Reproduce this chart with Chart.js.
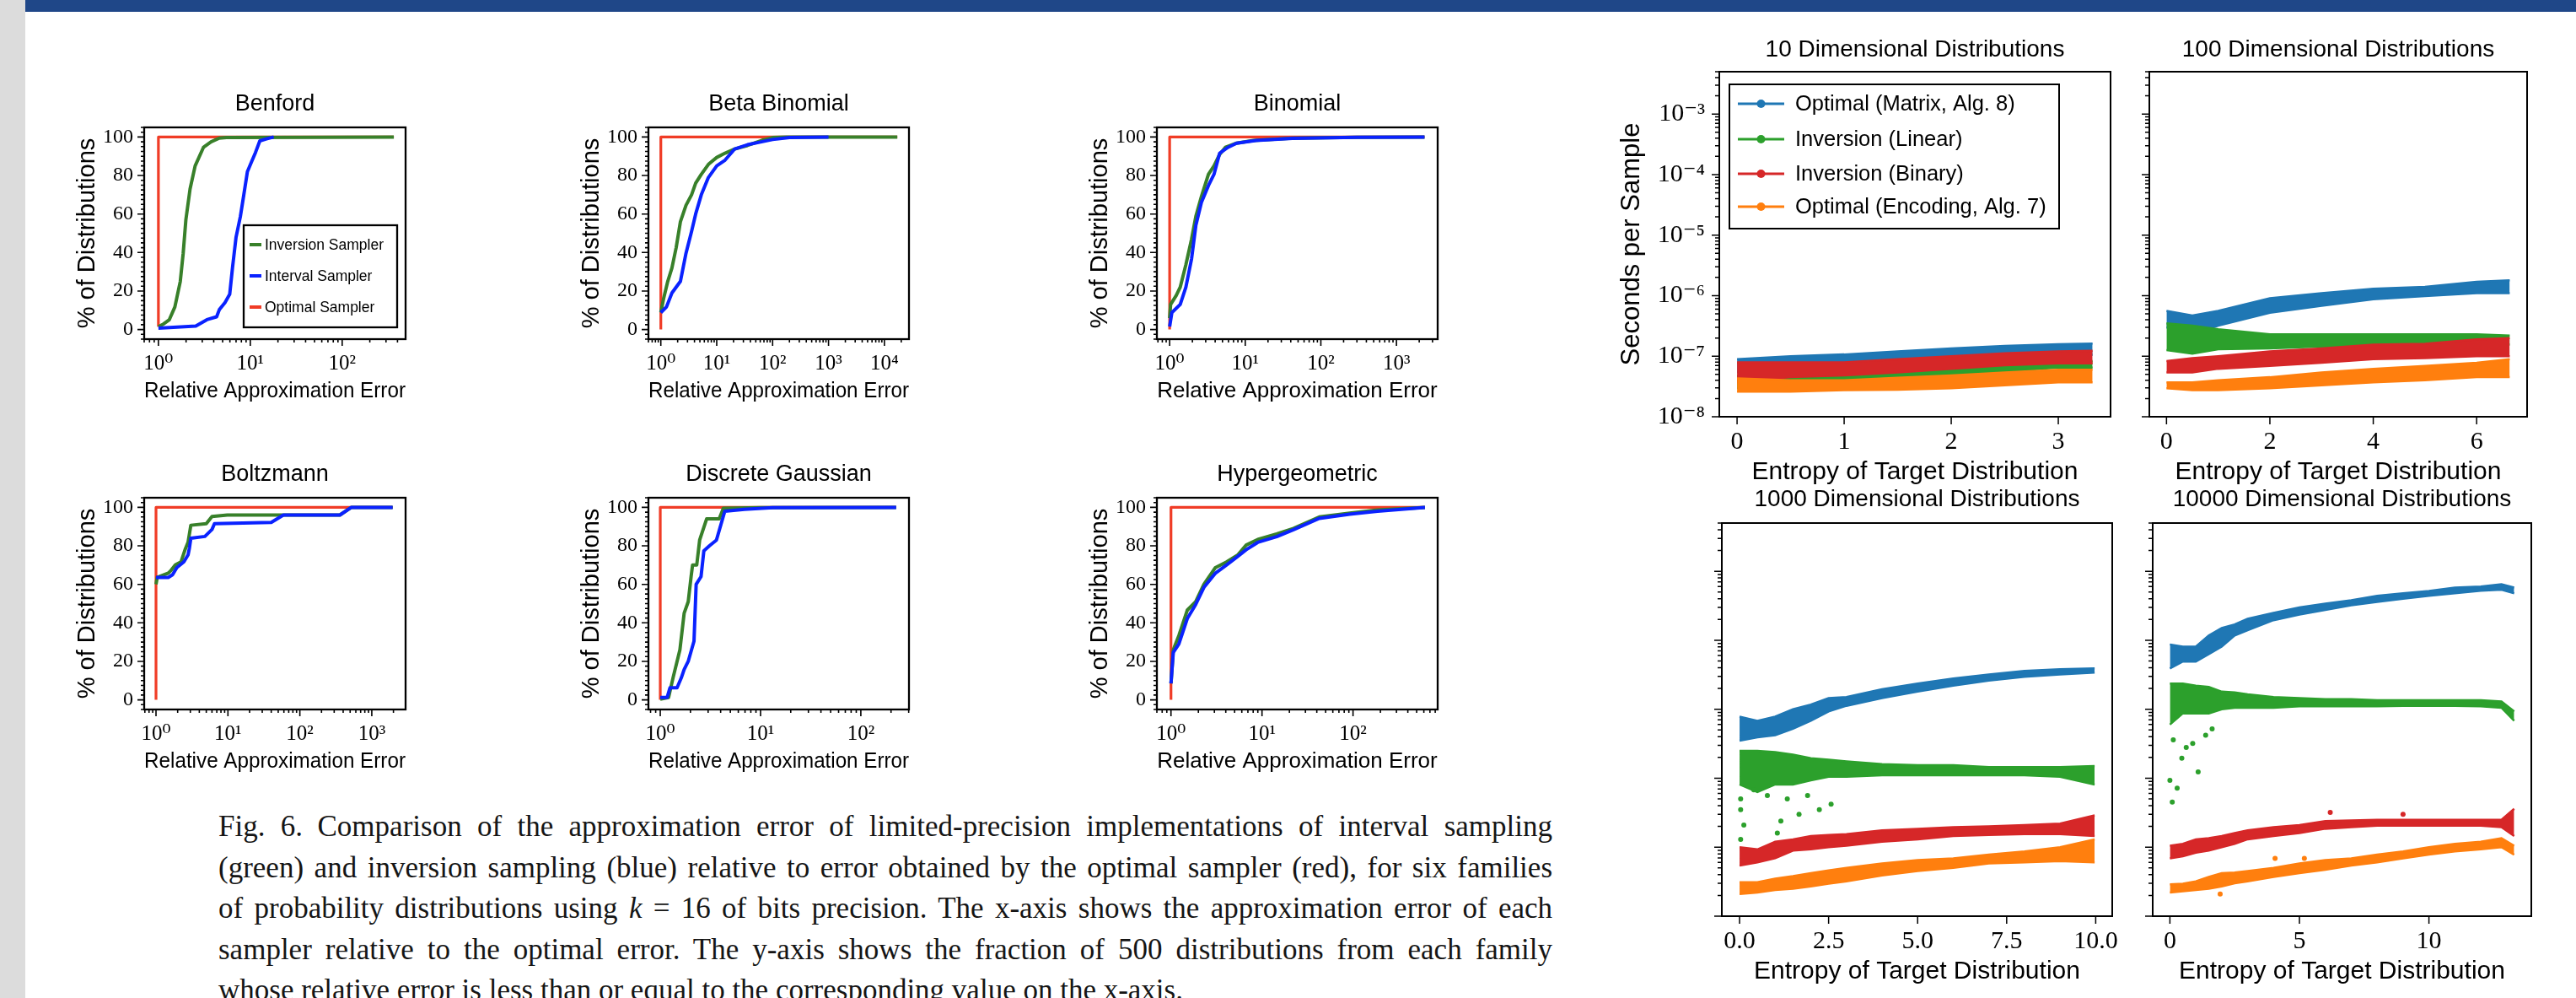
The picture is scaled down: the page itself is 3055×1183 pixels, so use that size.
<!DOCTYPE html>
<html>
<head>
<meta charset="utf-8">
<script src="https://cdn.jsdelivr.net/npm/chart.js@4.4.1/dist/chart.umd.min.js"></script>
<style>
  body { margin: 0; width: 3055px; height: 1183px; overflow: hidden; background: #fff; position: relative; }
  #strip { position: absolute; left: 0; top: 0; width: 30px; height: 1183px; background: #dcdcdc; }
  #bar { position: absolute; left: 30px; top: 0; width: 3025px; height: 14px; background: #1f4788; }
  canvas { position: absolute; }
  #caption { position: absolute; left: 259px; top: 956px; width: 1582px; font-family: "Liberation Serif", serif; font-size: 35px; line-height: 48.5px; color: #151515; }
  #caption div { text-align: justify; text-align-last: justify; }
  #caption div.last { text-align-last: left; }
</style>
</head>
<body>
<div id="strip"></div>
<div id="bar"></div>
<div id="caption">
  <div>Fig. 6.&ensp;Comparison of the approximation error of limited-precision implementations of interval sampling</div>
  <div>(green) and inversion sampling (blue) relative to error obtained by the optimal sampler (red), for six families</div>
  <div>of probability distributions using <i>k</i> = 16 of bits precision. The x-axis shows the approximation error of each</div>
  <div>sampler relative to the optimal error. The y-axis shows the fraction of 500 distributions from each family</div>
  <div class="last">whose relative error is less than or equal to the corresponding value on the x-axis.</div>
</div>
<script>
// ---- left figure: CDF of relative approximation error, [x, % of distributions]
const families = ['Benford', 'Beta Binomial', 'Binomial', 'Boltzmann', 'Discrete Gaussian', 'Hypergeometric'];
const samplerNames = ['Inversion Sampler', 'Interval Sampler', 'Optimal Sampler'];

const benfordInversion = [[1,1.5],[1.14,2.9],[1.31,5],[1.51,11.7],[1.73,25],[1.86,39.6],[1.99,57],[2.21,73],[2.51,85],[3.09,94.6],[3.74,97.5],[4.6,99.4],[5.5,99.7],[60,99.8],[365,100]];
const benfordInterval = [[1,0.7],[2.55,1.8],[3.37,5.1],[4.3,6.6],[4.6,10.3],[5.3,14],[5.97,18.3],[6.4,32],[7.0,48],[7.8,58.7],[8.5,70],[9.3,82],[10.3,87],[11.4,92],[12.7,98],[15,99],[18,100]];
const benfordOptimal = [[1,1.5],[1,100],[365,100]];

const betaBinomialInversion = [[1,8.8],[1.12,16],[1.33,25],[1.58,32],[1.88,42.5],[2.24,56],[2.82,64.5],[3.55,70],[4.2,76],[5.3,80.6],[7.1,85.8],[10,89.4],[14.1,91.6],[21,93.8],[35.5,95.6],[63,98.2],[100,99.7],[178,100],[17000,100]];
const betaBinomialInterval = [[1,8.8],[1.26,11.7],[1.58,19],[2.24,25],[2.82,39.6],[3.55,51],[4.2,60],[5.3,70],[7.1,79],[10,85],[14.1,88],[21,93.8],[35.5,96],[63,97.5],[100,98.7],[200,99.7],[1000,100]];
const betaBinomialOptimal = [[1,0],[1,100],[17000,100]];

const binomialInversion = [[1,5.9],[1.03,13],[1.22,17.6],[1.38,22],[1.64,33.7],[1.95,47],[2.22,58.7],[2.63,69],[3.26,80.6],[3.86,85],[4.59,91],[5.45,94.6],[7.67,96.8],[12.8,98.2],[42,99.4],[300,99.9],[2350,100]];
const binomialInterval = [[1,1.5],[1.07,8.8],[1.38,13],[1.64,22],[1.95,36.7],[2.22,54],[2.63,66],[3.26,74.8],[3.86,80.6],[4.59,91.6],[5.9,94.6],[7.67,96.8],[13.9,98.2],[42,99.3],[300,99.8],[2350,100]];
const binomialOptimal = [[1,0],[1,100],[2350,100]];

const boltzmannInversion = [[1,60],[1.04,63.6],[1.48,65.8],[1.62,67.3],[1.86,70.2],[2.23,71.7],[2.55,78.3],[2.79,81.9],[3.05,90.7],[5.0,91.5],[6.0,95.2],[9.8,96],[59,96],[360,96],[520,100],[1950,100]];
const boltzmannInterval = [[1,63.6],[1.48,63.6],[1.7,65],[1.95,68.7],[2.44,71.7],[2.79,75.3],[2.92,79],[3.05,84],[4.78,84.9],[6.0,88.5],[6.5,91.5],[40,92.2],[59,96],[360,96],[520,100],[1950,100]];
const boltzmannOptimal = [[1,0],[1,100],[1950,100]];

const discreteGaussianInversion = [[1,0.4],[1.21,1.2],[1.34,11.4],[1.57,26],[1.73,45],[1.9,51],[2.03,64],[2.10,70],[2.31,70],[2.47,83],[2.9,94],[3.87,94],[4.26,99.5],[10,99.9],[225,100]];
const discreteGaussianInterval = [[1,1.2],[1.17,1.2],[1.25,6.3],[1.47,6.3],[1.62,11.4],[1.73,15.8],[1.9,20],[2.17,30.5],[2.28,60],[2.55,64],[2.72,77.4],[3.09,80],[3.63,83],[4.4,98],[6.9,99],[13.2,99.9],[225,100]];
const discreteGaussianOptimal = [[1,0],[1,100],[225,100]];

const hypergeometricInversion = [[1,8.5],[1.06,26],[1.22,33.4],[1.51,46.6],[1.87,51],[2.3,60],[3.06,68.6],[4.06,71.6],[5.4,75.2],[6.7,80.4],[8.97,83.3],[14.5,86.2],[22.2,89.1],[42.6,95],[92,97],[186,98.6],[617,100]];
const hypergeometricInterval = [[1,8.5],[1.06,24.6],[1.22,29],[1.51,42.2],[1.87,49.6],[2.3,58.4],[3.06,65.7],[4.06,70],[5.4,74.5],[6.7,78],[8.97,81.8],[14.5,84.8],[22.2,88.4],[42.6,94.3],[92,96.5],[186,98],[617,100]];
const hypergeometricOptimal = [[1,0],[1,100],[617,100]];

const errTickValues = [1, 10, 100, 1000, 10000];
const errTickLabels = ['10⁰', '10¹', '10²', '10³', '10⁴'];
const pctTickValues = [0, 20, 40, 60, 80, 100];

const dimTitles = ['10 Dimensional Distributions', '100 Dimensional Distributions', '1000 Dimensional Distributions', '10000 Dimensional Distributions'];
const methodNames = ['Optimal (Matrix, Alg. 8)', 'Inversion (Linear)', 'Inversion (Binary)', 'Optimal (Encoding, Alg. 7)'];

const ent10 = [0, 0.5, 1, 1.5, 2, 2.5, 3, 3.32];
const t10MatrixHi = [8.9e-8, 1.0e-7, 1.07e-7, 1.2e-7, 1.35e-7, 1.48e-7, 1.58e-7, 1.62e-7];
const t10MatrixLo = [5.4e-8, 6.0e-8, 6.9e-8, 7.9e-8, 9.3e-8, 1.0e-7, 1.05e-7, 1.05e-7];
const t10LinearHi = [4.8e-8, 5.0e-8, 5.4e-8, 6.0e-8, 6.9e-8, 7.6e-8, 8.3e-8, 8.3e-8];
const t10LinearLo = [2.95e-8, 3.2e-8, 3.5e-8, 4.2e-8, 4.8e-8, 5.6e-8, 6.5e-8, 6.5e-8];
const t10BinaryHi = [7.9e-8, 7.9e-8, 7.9e-8, 8.9e-8, 1.0e-7, 1.12e-7, 1.2e-7, 1.23e-7];
const t10BinaryLo = [3.7e-8, 4.5e-8, 4.8e-8, 5.4e-8, 6.2e-8, 7.1e-8, 7.6e-8, 7.6e-8];
const t10EncodingHi = [4.3e-8, 4.0e-8, 4.0e-8, 4.4e-8, 4.8e-8, 5.4e-8, 6.0e-8, 6.0e-8];
const t10EncodingLo = [2.6e-8, 2.6e-8, 2.75e-8, 2.8e-8, 2.95e-8, 3.3e-8, 3.7e-8, 3.7e-8];

const ent100 = [0, 0.5, 1, 2, 3, 4, 5, 6, 6.64];
const t100MatrixHi = [5.6e-7, 4.7e-7, 5.6e-7, 9.1e-7, 1.1e-6, 1.3e-6, 1.4e-6, 1.7e-6, 1.8e-6];
const t100MatrixLo = [3.0e-7, 2.3e-7, 3.2e-7, 5.2e-7, 6.8e-7, 8.7e-7, 9.8e-7, 1.1e-6, 1.1e-6];
const t100LinearHi = [3.5e-7, 3.2e-7, 2.8e-7, 2.3e-7, 2.3e-7, 2.3e-7, 2.3e-7, 2.3e-7, 2.2e-7];
const t100LinearLo = [1.26e-7, 1.1e-7, 1.3e-7, 1.35e-7, 1.45e-7, 1.45e-7, 1.55e-7, 1.55e-7, 1.55e-7];
const t100BinaryHi = [8.3e-8, 9.3e-8, 1.0e-7, 1.2e-7, 1.35e-7, 1.55e-7, 1.6e-7, 1.9e-7, 2.0e-7];
const t100BinaryLo = [5.4e-8, 5.4e-8, 6.2e-8, 6.9e-8, 7.8e-8, 8.9e-8, 9.3e-8, 1.0e-7, 1.0e-7];
const t100EncodingHi = [3.7e-8, 3.7e-8, 4.0e-8, 4.5e-8, 5.4e-8, 6.2e-8, 6.9e-8, 7.8e-8, 8.9e-8];
const t100EncodingLo = [2.95e-8, 2.75e-8, 2.75e-8, 2.95e-8, 3.3e-8, 3.7e-8, 4.0e-8, 4.5e-8, 4.5e-8];

const ent1000 = [0, 0.5, 1, 1.5, 2, 2.5, 3, 4, 5, 6, 7, 8, 9, 9.97];
const t1000MatrixHi = [7.8e-6, 6.8e-6, 7.8e-6, 1.0e-5, 1.17e-5, 1.45e-5, 1.5e-5, 1.95e-5, 2.35e-5, 2.8e-5, 3.2e-5, 3.6e-5, 3.8e-5, 3.9e-5];
const t1000MatrixLo = [3.5e-6, 3.9e-6, 4.2e-6, 5.2e-6, 6.8e-6, 9.3e-6, 1.12e-5, 1.45e-5, 1.8e-5, 2.2e-5, 2.6e-5, 2.95e-5, 3.2e-5, 3.4e-5];
const t1000LinearHi = [2.5e-6, 2.5e-6, 2.4e-6, 2.2e-6, 1.95e-6, 1.85e-6, 1.75e-6, 1.6e-6, 1.55e-6, 1.55e-6, 1.45e-6, 1.45e-6, 1.45e-6, 1.5e-6];
const t1000LinearLo = [8.1e-7, 6.3e-7, 8.1e-7, 8.1e-7, 9.3e-7, 1.05e-6, 1.05e-6, 1.1e-6, 1.1e-6, 1.1e-6, 1.1e-6, 1.1e-6, 1.05e-6, 8.1e-7];
const t1000BinaryHi = [1.0e-7, 9.3e-8, 1.2e-7, 1.3e-7, 1.45e-7, 1.5e-7, 1.55e-7, 1.75e-7, 1.85e-7, 1.95e-7, 2.0e-7, 2.1e-7, 2.2e-7, 2.9e-7];
const t1000BinaryLo = [5.4e-8, 6.0e-8, 6.9e-8, 8.9e-8, 9.3e-8, 1.0e-7, 1.05e-7, 1.2e-7, 1.3e-7, 1.45e-7, 1.5e-7, 1.55e-7, 1.55e-7, 1.45e-7];
const t1000EncodingHi = [3.1e-8, 3.1e-8, 3.5e-8, 3.8e-8, 4.2e-8, 4.6e-8, 5.0e-8, 5.8e-8, 6.5e-8, 6.9e-8, 7.8e-8, 8.7e-8, 1.0e-7, 1.3e-7];
const t1000EncodingLo = [2.1e-8, 2.2e-8, 2.4e-8, 2.5e-8, 2.7e-8, 2.95e-8, 3.2e-8, 3.9e-8, 4.5e-8, 5.0e-8, 5.8e-8, 6.0e-8, 6.3e-8, 6.0e-8];
const t1000LinearOutX = [0.03, 0.03, 0.12, 0.03, 1.16, 1.06, 1.67, 2.24, 2.57, 0.78, 1.34, 1.91, 0.4];
const t1000LinearOutY = [5.0e-7, 3.5e-7, 2.1e-7, 1.3e-7, 2.4e-7, 1.6e-7, 3.0e-7, 3.5e-7, 4.2e-7, 5.6e-7, 5.0e-7, 5.6e-7, 6.8e-7];

const ent10000 = [0, 0.5, 1, 1.5, 2, 2.5, 3, 4, 5, 6, 7, 8, 9, 10, 11, 12, 12.8, 13.29];
const t10000MatrixHi = [8.7e-5, 8.1e-5, 8.1e-5, 1.17e-4, 1.5e-4, 1.7e-4, 2.05e-4, 2.5e-4, 3.0e-4, 3.4e-4, 3.8e-4, 4.4e-4, 4.8e-4, 5.2e-4, 5.8e-4, 6.0e-4, 6.5e-4, 5.8e-4];
const t10000MatrixLo = [3.9e-5, 4.9e-5, 4.9e-5, 6.3e-5, 8.1e-5, 1.17e-4, 1.4e-4, 1.95e-4, 2.35e-4, 2.75e-4, 3.2e-4, 3.6e-4, 4.0e-4, 4.4e-4, 4.8e-4, 5.2e-4, 5.4e-4, 4.8e-4];
const t10000LinearHi = [2.35e-5, 2.35e-5, 2.2e-5, 2.1e-5, 1.8e-5, 1.75e-5, 1.65e-5, 1.5e-5, 1.45e-5, 1.4e-5, 1.4e-5, 1.35e-5, 1.35e-5, 1.35e-5, 1.35e-5, 1.35e-5, 1.3e-5, 9.3e-6];
const t10000LinearLo = [6.0e-6, 8.7e-6, 8.7e-6, 8.7e-6, 1.0e-5, 1.05e-5, 1.05e-5, 1.05e-5, 1.1e-5, 1.1e-5, 1.1e-5, 1.1e-5, 1.12e-5, 1.12e-5, 1.12e-5, 1.1e-5, 1.05e-5, 6.8e-6];
const t10000BinaryHi = [1.05e-7, 1.12e-7, 1.3e-7, 1.35e-7, 1.45e-7, 1.6e-7, 1.75e-7, 1.95e-7, 2.1e-7, 2.4e-7, 2.45e-7, 2.5e-7, 2.5e-7, 2.5e-7, 2.5e-7, 2.5e-7, 2.5e-7, 3.6e-7];
const t10000BinaryLo = [6.9e-8, 7.4e-8, 8.3e-8, 8.9e-8, 1.0e-7, 1.12e-7, 1.3e-7, 1.45e-7, 1.6e-7, 1.85e-7, 1.95e-7, 2.05e-7, 2.05e-7, 2.05e-7, 2.05e-7, 2.05e-7, 1.95e-7, 1.45e-7];
const t10000EncodingHi = [2.9e-8, 2.95e-8, 3.2e-8, 3.7e-8, 4.2e-8, 4.3e-8, 4.5e-8, 5.0e-8, 5.8e-8, 6.5e-8, 6.9e-8, 7.8e-8, 8.7e-8, 1.0e-7, 1.12e-7, 1.2e-7, 1.35e-7, 1.05e-7];
const t10000EncodingLo = [2.2e-8, 2.3e-8, 2.4e-8, 2.5e-8, 2.7e-8, 3.0e-8, 3.2e-8, 3.7e-8, 4.2e-8, 4.7e-8, 5.4e-8, 6.0e-8, 6.9e-8, 7.8e-8, 8.7e-8, 9.3e-8, 1.0e-7, 7.8e-8];
const t10000LinearOutX = [0, 0.28, 0.09, 0.46, 1.09, 0.63, 0.88, 1.38, 1.63, 0.13];
const t10000LinearOutY = [9.3e-7, 7.2e-7, 4.5e-7, 1.95e-6, 1.23e-6, 2.8e-6, 3.2e-6, 4.2e-6, 5.2e-6, 3.6e-6];
const t10000BinaryOutX = [6.19, 9.0];
const t10000BinaryOutY = [3.2e-7, 3.0e-7];
const t10000EncodingOutX = [4.06, 5.19, 1.94];
const t10000EncodingOutY = [6.9e-8, 6.9e-8, 2.1e-8];

const timeTickValues = [1e-8, 1e-7, 1e-6, 1e-5, 1e-4, 1e-3];
const timeTickLabels = ['10⁻⁸', '10⁻⁷', '10⁻⁶', '10⁻⁵', '10⁻⁴', '10⁻³'];
const entTicks10 = [0, 1, 2, 3], entLabels10 = ['0', '1', '2', '3'];
const entTicks100 = [0, 2, 4, 6], entLabels100 = ['0', '2', '4', '6'];
const entTicks1000 = [0, 2.5, 5, 7.5, 10], entLabels1000 = ['0.0', '2.5', '5.0', '7.5', '10.0'];
const entTicks10000 = [0, 5, 10], entLabels10000 = ['0', '5', '10'];

// ---- styling
const sans = '"Liberation Sans", Arial, sans-serif';
const serif = '"Liberation Serif", "DejaVu Serif", serif';
const cdfGreen = '#38802a', cdfBlue = '#0a22ff', cdfRed = '#f03c26';
const tabBlue = '#1f77b4', tabOrange = '#ff7f0e', tabGreen = '#2ca02c', tabRed = '#d62728';
Chart.defaults.color = '#000';
Chart.defaults.font.family = sans;

const toXY = pairs => pairs.map(([x, y]) => ({x, y}));
const zip = (xs, ys) => xs.map((x, i) => ({x, y: ys[i]}));

function place(x, y, w, h) {
  const c = document.createElement('canvas');
  c.width = w; c.height = h;
  c.style.left = x + 'px'; c.style.top = y + 'px';
  c.style.width = w + 'px'; c.style.height = h + 'px';
  document.body.appendChild(c);
  return c;
}

function drawLegend(ctx, a, L) {
  const x0 = a.left + L.x, y0 = a.top + L.y;
  ctx.fillStyle = '#fff';
  ctx.fillRect(x0, y0, L.w, L.h);
  ctx.strokeStyle = '#000'; ctx.lineWidth = L.border;
  ctx.strokeRect(x0, y0, L.w, L.h);
  ctx.font = L.font; ctx.textBaseline = 'middle'; ctx.textAlign = 'left';
  L.items.forEach((it, i) => {
    const y = y0 + L.rows[i];
    ctx.strokeStyle = it.color; ctx.lineWidth = L.lineWidth;
    ctx.beginPath(); ctx.moveTo(x0 + L.line[0], y); ctx.lineTo(x0 + L.line[1], y); ctx.stroke();
    if (L.marker) {
      ctx.fillStyle = it.color;
      ctx.beginPath(); ctx.arc(x0 + (L.line[0] + L.line[1]) / 2, y, L.marker, 0, 2 * Math.PI); ctx.fill();
    }
    ctx.fillStyle = '#000';
    ctx.fillText(it.label, x0 + L.textX, y + 1);
  });
}

// box around the plot area, outward tick marks (long = major), optional legend
const framePlugin = {
  id: 'frame',
  afterDraw(chart, args, o) {
    const {ctx, chartArea: a, scales} = chart;
    ctx.save();
    ctx.strokeStyle = '#000';
    ctx.lineWidth = o.tickWidth;
    ctx.beginPath();
    scales.x.ticks.forEach(t => {
      const p = scales.x.getPixelForValue(t.value);
      if (p < a.left - 0.5 || p > a.right + 0.5) return;
      ctx.moveTo(p, a.bottom); ctx.lineTo(p, a.bottom + (t.big ? o.major : o.minor));
    });
    scales.y.ticks.forEach(t => {
      const p = scales.y.getPixelForValue(t.value);
      if (p < a.top - 0.5 || p > a.bottom + 0.5) return;
      ctx.moveTo(a.left, p); ctx.lineTo(a.left - (t.big ? o.major : o.minor), p);
    });
    ctx.stroke();
    ctx.lineWidth = o.frameWidth;
    ctx.strokeRect(a.left, a.top, a.right - a.left, a.bottom - a.top);
    if (o.legend) drawLegend(ctx, a, o.legend);
    ctx.restore();
  }
};

function logTicks(scale) {
  const ticks = [];
  const e0 = Math.floor(Math.log10(scale.min)), e1 = Math.ceil(Math.log10(scale.max));
  for (let e = e0; e <= e1; e++) {
    for (let k = 1; k < 10; k++) {
      const v = k * Math.pow(10, e);
      if (v >= scale.min && v <= scale.max) ticks.push({value: v, big: k === 1});
    }
  }
  scale.ticks = ticks;
}

function pctTicks(scale) {
  const ticks = [];
  for (let v = -5; v <= 105; v += 2.5) ticks.push({value: v, big: pctTickValues.includes(v)});
  scale.ticks = ticks;
}

function timeTicks(scale) {
  const ticks = [];
  timeTickValues.forEach(base => {
    for (let k = 1; k < 10; k++) {
      const v = k * base;
      if (v <= scale.max * 1.0001) ticks.push({value: v, big: k === 1});
    }
  });
  scale.ticks = ticks;
}

const nearIndex = (arr, v) => arr.findIndex(u => Math.abs(u - v) <= Math.abs(u) * 1e-6);

// ---- six CDF panels
const cdfPanels = [
  {title: families[0], series: [benfordInversion, benfordInterval, benfordOptimal], box: [171, 151, 481, 402], xr: [0.745, 490], legend: true},
  {title: families[1], series: [betaBinomialInversion, betaBinomialInterval, betaBinomialOptimal], box: [769, 151, 1078, 402], xr: [0.616, 27500]},
  {title: families[2], series: [binomialInversion, binomialInterval, binomialOptimal], box: [1372, 151, 1705, 402], xr: [0.678, 3508]},
  {title: families[3], series: [boltzmannInversion, boltzmannInterval, boltzmannOptimal], box: [171, 590, 481, 841], xr: [0.685, 2950]},
  {title: families[4], series: [discreteGaussianInversion, discreteGaussianInterval, discreteGaussianOptimal], box: [769, 590, 1078, 841], xr: [0.762, 302]},
  {title: families[5], series: [hypergeometricInversion, hypergeometricInterval, hypergeometricOptimal], box: [1372, 590, 1705, 841], xr: [0.726, 851]}
];

cdfPanels.forEach(p => {
  const [l, t, r, b] = p.box;
  const yW = 88, titleH = 44, xH = 80, padR = 24;
  const c = place(l - yW, t - titleH, r - l + yW + padR, b - t + titleH + xH);
  const lineOpts = {showLine: true, pointRadius: 0, fill: false, tension: 0, borderJoinStyle: 'round'};
  new Chart(c, {
    type: 'scatter',
    data: {datasets: [
      Object.assign({label: samplerNames[1], data: toXY(p.series[1]), borderColor: cdfBlue, borderWidth: 4}, lineOpts),
      Object.assign({label: samplerNames[0], data: toXY(p.series[0]), borderColor: cdfGreen, borderWidth: 4}, lineOpts),
      Object.assign({label: samplerNames[2], data: toXY(p.series[2]), borderColor: cdfRed, borderWidth: 3.2}, lineOpts)
    ]},
    options: {
      responsive: false, animation: false, devicePixelRatio: 1,
      layout: {padding: {left: 0, right: padR, top: 0, bottom: 0}},
      plugins: {
        legend: {display: false}, tooltip: {enabled: false},
        title: {display: true, text: p.title, fullSize: false, color: '#000',
          font: {family: sans, size: 27, weight: 'normal'}, padding: {top: 0, bottom: titleH - 32.4}},
        frame: {frameWidth: 2.3, tickWidth: 1.6, major: 8, minor: 4,
          legend: p.legend ? {x: 118, y: 116, w: 182, h: 121, border: 2.3, rows: [23, 60, 97], line: [7, 21], textX: 25,
            lineWidth: 4, font: '17.5px ' + sans,
            items: [{label: samplerNames[0], color: cdfGreen}, {label: samplerNames[1], color: cdfBlue}, {label: samplerNames[2], color: cdfRed}]} : null}
      },
      scales: {
        x: {type: 'logarithmic', min: p.xr[0], max: p.xr[1],
          afterBuildTicks: logTicks, afterFit: s => { s.height = xH; },
          grid: {display: false, drawTicks: false}, border: {display: false},
          ticks: {autoSkip: false, maxRotation: 0, padding: 14, color: '#000', font: {family: serif, size: 25},
            callback: (v, i, ticks) => ticks[i].big ? errTickLabels[nearIndex(errTickValues, v)] : ''},
          title: {display: true, text: 'Relative Approximation Error', color: '#000', font: {family: sans, size: 26}, padding: {top: 0, bottom: 3}}},
        y: {min: -5, max: 105,
          afterBuildTicks: pctTicks, afterFit: s => { s.width = yW; },
          grid: {display: false, drawTicks: false}, border: {display: false},
          ticks: {autoSkip: false, padding: 13, color: '#000', font: {family: serif, size: 24},
            callback: (v, i, ticks) => ticks[i].big ? String(v) : ''},
          title: {display: true, text: '% of Distributions', color: '#000', font: {family: sans, size: 29}, padding: {top: 4, bottom: 0}}}
      }
    },
    plugins: [framePlugin]
  });
});

// ---- four timing panels
const timePanels = [
  {title: dimTitles[0], box: [2039, 85, 2503, 494], titleH: 43, xr: [-0.166, 3.488], xt: entTicks10, xl: entLabels10, ent: ent10,
    bands: [[t10MatrixHi, t10MatrixLo], [t10LinearHi, t10LinearLo], [t10BinaryHi, t10BinaryLo], [t10EncodingHi, t10EncodingLo]],
    out: [], showY: true, legend: true},
  {title: dimTitles[1], box: [2549, 85, 2997, 494], titleH: 43, xr: [-0.332, 6.976], xt: entTicks100, xl: entLabels100, ent: ent100,
    bands: [[t100MatrixHi, t100MatrixLo], [t100LinearHi, t100LinearLo], [t100BinaryHi, t100BinaryLo], [t100EncodingHi, t100EncodingLo]],
    out: []},
  {title: dimTitles[2], box: [2042, 620, 2505, 1086], titleH: 45, xr: [-0.498, 10.464], xt: entTicks1000, xl: entLabels1000, ent: ent1000,
    bands: [[t1000MatrixHi, t1000MatrixLo], [t1000LinearHi, t1000LinearLo], [t1000BinaryHi, t1000BinaryLo], [t1000EncodingHi, t1000EncodingLo]],
    out: [[t1000LinearOutX, t1000LinearOutY, tabGreen]]},
  {title: dimTitles[3], box: [2553, 620, 3002, 1086], titleH: 45, xr: [-0.664, 13.952], xt: entTicks10000, xl: entLabels10000, ent: ent10000,
    bands: [[t10000MatrixHi, t10000MatrixLo], [t10000LinearHi, t10000LinearLo], [t10000BinaryHi, t10000BinaryLo], [t10000EncodingHi, t10000EncodingLo]],
    out: [[t10000LinearOutX, t10000LinearOutY, tabGreen], [t10000BinaryOutX, t10000BinaryOutY, tabRed], [t10000EncodingOutX, t10000EncodingOutY, tabOrange]]}
];
const methodColors = [tabBlue, tabGreen, tabRed, tabOrange];

function band(xs, hi, lo, color, label) {
  const common = {showLine: true, pointRadius: 0, borderColor: color, backgroundColor: color, borderWidth: 2.5, tension: 0};
  return [
    Object.assign({label: label, data: zip(xs, hi), fill: '+1'}, common),
    Object.assign({label: label, data: zip(xs, lo), fill: false}, common)
  ];
}

timePanels.forEach(p => {
  const [l, t, r, b] = p.box;
  const yW = p.showY ? 126 : 20, titleH = p.titleH, xH = 86, padR = 24;
  const c = place(l - yW, t - titleH, r - l + yW + padR, b - t + titleH + xH);
  // orange drawn last (on top), blue first, as in the original
  const datasets = [];
  p.out.forEach(([ox, oy, col]) => datasets.push({data: zip(ox, oy), showLine: false, pointRadius: 3, backgroundColor: col, borderWidth: 0}));
  [3, 2, 1, 0].forEach(m => datasets.push(...band(p.ent, p.bands[m][0], p.bands[m][1], methodColors[m], methodNames[m])));
  new Chart(c, {
    type: 'scatter',
    data: {datasets},
    options: {
      responsive: false, animation: false, devicePixelRatio: 1,
      layout: {padding: {left: 0, right: padR, top: 0, bottom: 0}},
      plugins: {
        legend: {display: false}, tooltip: {enabled: false},
        title: {display: true, text: p.title, fullSize: false, color: '#000',
          font: {family: sans, size: 28, weight: 'normal'}, padding: {top: 0, bottom: titleH - 33.6}},
        frame: {frameWidth: 2, tickWidth: 1.5, major: 9, minor: 5,
          legend: p.legend ? {x: 12, y: 15, w: 391, h: 171, border: 2, rows: [23, 65, 106, 145], line: [10, 65], textX: 78,
            lineWidth: 3, marker: 5, font: '25.5px ' + sans,
            items: methodNames.map((n, i) => ({label: n, color: methodColors[i]}))} : null}
      },
      scales: {
        x: {type: 'linear', min: p.xr[0], max: p.xr[1],
          afterBuildTicks: s => { s.ticks = p.xt.map(v => ({value: v, big: true})); },
          afterFit: s => { s.height = xH; },
          grid: {display: false, drawTicks: false}, border: {display: false},
          ticks: {autoSkip: false, maxRotation: 0, padding: 12, color: '#000', font: {family: serif, size: 30},
            callback: (v, i) => p.xl[i]},
          title: {display: true, text: 'Entropy of Target Distribution', color: '#000', font: {family: sans, size: 30}, padding: {top: 0, bottom: 2}}},
        y: {type: 'logarithmic', min: 1e-8, max: 5e-3,
          afterBuildTicks: timeTicks, afterFit: s => { s.width = yW; },
          grid: {display: false, drawTicks: false}, border: {display: false},
          ticks: {display: !!p.showY, autoSkip: false, padding: 17, color: '#000', font: {family: serif, size: 30},
            callback: (v, i, ticks) => ticks[i].big ? timeTickLabels[nearIndex(timeTickValues, v)] : ''},
          title: {display: !!p.showY, text: 'Seconds per Sample', color: '#000', font: {family: sans, size: 31}, padding: {top: 4, bottom: 0}}}
      }
    },
    plugins: [framePlugin]
  });
});
</script>
</body>
</html>
